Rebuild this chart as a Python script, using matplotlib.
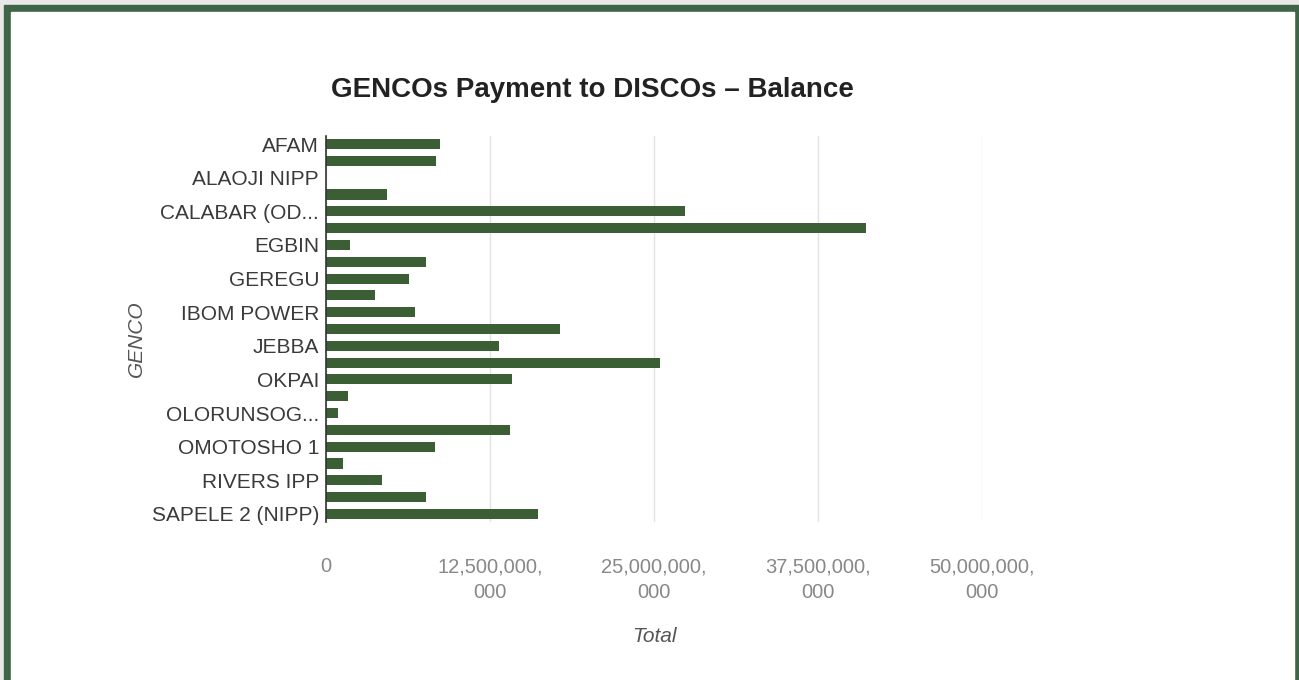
import numpy as np
import matplotlib.pyplot as plt
from matplotlib.patches import Rectangle

plt.rcParams['font.family'] = ['Liberation Sans', 'DejaVu Sans']

# dados (valores em Naira)
gencos = ['AFAM', 'AFAM VI', 'ALAOJI NIPP', 'AZURA-EDO', 'CALABAR (ODUKPANI) NIPP',
          'DELTA', 'EGBIN', 'GBARAIN NIPP', 'GEREGU', 'GEREGU NIPP', 'IBOM POWER',
          'IHOVBOR NIPP', 'JEBBA', 'KAINJI', 'OKPAI', 'OLORUNSOGO', 'OLORUNSOGO NIPP',
          'OMOKU', 'OMOTOSHO 1', 'OMOTOSHO 2', 'RIVERS IPP', 'SAPELE', 'SAPELE 2 (NIPP)']
balance = [8.69e9, 8.38e9, 0.0, 4.65e9, 27.36e9,
           41.16e9, 1.83e9, 7.62e9, 6.33e9, 3.73e9, 6.78e9,
           17.84e9, 13.19e9, 25.46e9, 14.18e9, 1.68e9, 0.91e9,
           14.02e9, 8.31e9, 1.30e9, 4.27e9, 7.62e9, 16.16e9]
# so os rotulos alternados aparecem no grafico
shown_labels = ['AFAM', 'ALAOJI NIPP', 'CALABAR (OD...', 'EGBIN', 'GEREGU', 'IBOM POWER',
                'JEBBA', 'OKPAI', 'OLORUNSOG...', 'OMOTOSHO 1', 'RIVERS IPP', 'SAPELE 2 (NIPP)']
xticks = [0, 12.5e9, 25e9, 37.5e9, 50e9]
xtick_labels = ['0', '12,500,000,\n000', '25,000,000,\n000', '37,500,000,\n000', '50,000,000,\n000']

W, H = 1299, 680
fig = plt.figure(figsize=(W / 100, H / 100), dpi=100)

# moldura verde
fig.patches.append(Rectangle((0, 0), 1, 1, transform=fig.transFigure, color='#e8e8e8', zorder=-3))
fig.patches.append(Rectangle((4 / W, -0.1), 1.1, 1 - 5 / H + 0.1, transform=fig.transFigure,
                             color='#3f6549', zorder=-2))
fig.patches.append(Rectangle((11 / W, -0.1), (1294 - 11) / W, 1 - 12 / H + 0.1,
                             transform=fig.transFigure, color='white', zorder=-1))

ax = fig.add_axes([326 / W, 1 - 522.4 / H, (982 - 326) / W, (522.4 - 135.6) / H])
ax.set_facecolor('none')

y = np.arange(len(gencos))
ax.barh(y, balance, height=0.6, color='#3b5e35', zorder=3)
ax.set_ylim(len(gencos) - 0.5, -0.5)
ax.set_xlim(0, 50e9)

ax.set_yticks(y[::2])
ax.set_yticklabels(shown_labels, fontsize=15, color='#3a3a3a')
ax.set_xticks(xticks)
ax.set_xticklabels(xtick_labels, fontsize=14.5, color='#888888', linespacing=1.45)
ax.tick_params(axis='both', length=0)
ax.tick_params(axis='y', pad=5)
ax.tick_params(axis='x', pad=25)

ax.grid(axis='x', color='#e2e2e2', linewidth=1, zorder=0)
for s in ['top', 'right', 'bottom']:
    ax.spines[s].set_visible(False)
ax.spines['left'].set_color('#333333')
ax.spines['left'].set_linewidth(1.2)
ax.spines['left'].set_zorder(4)

fig.text(592 / W, 1 - 90 / H, 'GENCOs Payment to DISCOs \u2013 Balance', fontsize=20,
         fontweight='bold', color='#222222', ha='center', va='center')
fig.text(654 / W, 1 - 636 / H, 'Total', fontsize=15, style='italic', color='#555555',
         ha='center', va='center')
fig.text(136 / W, 1 - 339 / H, 'GENCO', fontsize=15, style='italic', color='#555555',
         ha='center', va='center', rotation=90)

fig.savefig('out.png', dpi=100)
